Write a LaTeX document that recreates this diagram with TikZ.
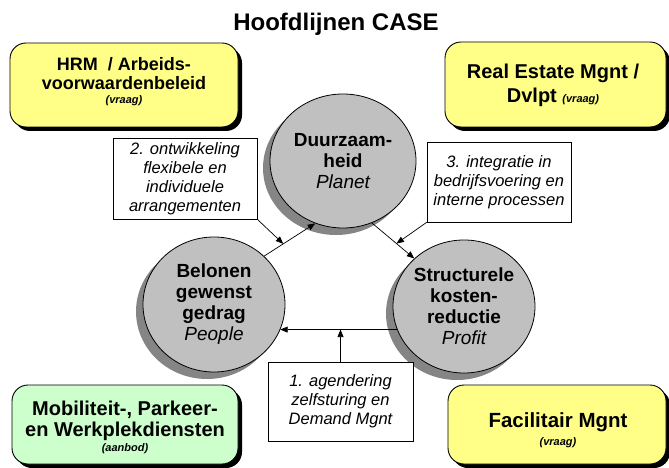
\documentclass[tikz,border=0pt]{standalone}
\usepackage{fontspec}
\setmainfont{Liberation Sans}
\usetikzlibrary{shapes.geometric,shadows,arrows.meta,calc}
\definecolor{boxyellow}{HTML}{FFFF88}
\definecolor{boxgreen}{HTML}{CCFFCC}
\definecolor{discfill}{HTML}{C0C0C0}
\definecolor{discshadow}{HTML}{858585}
\begin{document}
\begin{tikzpicture}[x=1pt,y=-1pt,
  disc/.style={ellipse, draw=black, line width=0.8pt, fill=discfill,
    minimum width=142pt, minimum height=134pt, inner sep=0pt, align=center,
    font=\fontsize{19}{21}\selectfont\bfseries,
    general shadow={shadow xshift=-7pt, shadow yshift=-7pt, fill=discshadow, draw=none}},
  tbox/.style={draw=black, line width=0.7pt, fill=white, minimum width=144pt,
    minimum height=80pt, inner sep=0pt, align=center,
    font=\fontsize{16.5}{19}\selectfont\itshape},
  rbox/.style={draw=black, line width=0.9pt, rounded corners=16pt, inner sep=0pt,
    general shadow={shadow xshift=4pt, shadow yshift=-4pt, fill=black, draw=none}},
  btext/.style={align=center, inner sep=0pt},
  small/.style={inner sep=0pt, font=\fontsize{11}{13}\selectfont\bfseries\itshape},
  arr/.style={-{Triangle[length=7.5pt,width=6pt]}, line width=0.7pt}
]
\useasboundingbox (0,0) rectangle (669,468);

% title
\node[inner sep=0pt, font=\fontsize{24}{26}\selectfont\bfseries] (title) at (336,24) {Hoofdlijnen CASE};

% corner boxes
\node[rbox, fill=boxyellow, minimum width=228pt, minimum height=84pt] (hrm) at (124,85) {};
\node[btext, font=\fontsize{18}{19}\selectfont\bfseries] (hrmt) at (124,73.5) {HRM~~/ Arbeids-\\voorwaardenbeleid};
\node[small] (hrmv) at (124,101) {(vraag)};

\node[rbox, fill=boxyellow, minimum width=221pt, minimum height=85pt] (res) at (555.5,84.5) {};
\node[btext, font=\fontsize{20}{24}\selectfont\bfseries] (rest) at (553,85) {Real Estate Mgnt /\\Dvlpt {\fontsize{11}{13}\selectfont\itshape (vraag)}};

\node[rbox, fill=boxgreen, minimum width=226pt, minimum height=79pt] (mob) at (125,424.5) {};
\node[btext, font=\fontsize{20}{20.5}\selectfont\bfseries] (mobt) at (125,421) {Mobiliteit-, Parkeer-\\en Werkplekdiensten};
\node[small] (mobv) at (125,449) {(aanbod)};

\node[rbox, fill=boxyellow, minimum width=218pt, minimum height=79pt] (fac) at (557,424.5) {};
\node[inner sep=0pt, font=\fontsize{20.5}{22}\selectfont\bfseries] (fact) at (558,422) {Facilitair Mgnt};
\node[small] (facv) at (558,442.5) {(vraag)};

% discs
\node[disc, minimum width=146pt] (duu) at (343,161) {Duurzaam-\\heid\\{\mdseries\itshape Planet}};
\node[disc, minimum height=135pt] (bel) at (214,304.5) {Belonen\\gewenst\\gedrag\\{\mdseries\itshape People}};
\node[disc, minimum height=133pt] (str) at (464,306.5) {Structurele\\kosten-\\reductie\\{\mdseries\itshape Profit}};

% text boxes
\node[tbox, minimum height=81pt] (b2) at (185,178.5) {2. ontwikkeling\\flexibele en\\individuele\\arrangementen};
\node[tbox] (b3) at (499,182) {3. integratie in\\bedrijfsvoering en\\interne processen};
\node[tbox, minimum width=145pt, minimum height=79pt] (b1) at (340.5,401.5) {1. agendering\\zelfsturing en\\Demand Mgnt};

% connectors
\draw[arr] (bel.44) -- coordinate[pos=0.375] (m2) (duu.246);
\draw[arr] (duu.295) -- coordinate[pos=0.58] (m3) (str.136);
\draw[arr] (b2.south east) -- (m2);
\draw[arr] (b3.south west) -- (m3);
\draw[arr] (str.199) -- (bel.339 |- str.199);
\draw[arr] (b1.north) -- (b1.north |- str.199);
\end{tikzpicture}
\end{document}
